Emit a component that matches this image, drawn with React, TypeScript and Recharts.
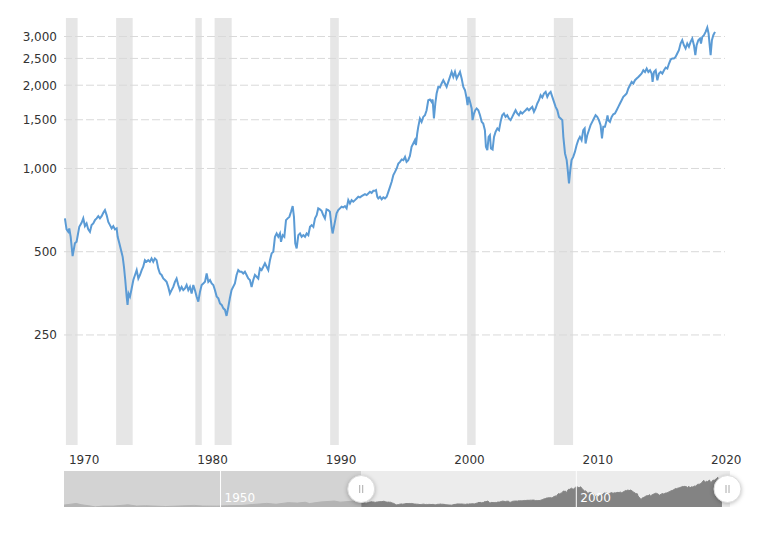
import React from 'react';
import {
    LineChart,
    Line,
    ComposedChart,
    Area,
    XAxis,
    YAxis,
    ReferenceArea,
    ReferenceLine
} from 'recharts';

// S&P 500 (inflation adjusted) as [year, value]
const spx1970s: [number, number][] = [
    [1969.84, 660], [1969.97, 602], [1970.10, 590], [1970.18, 607], [1970.29, 566], [1970.44, 482],
    [1970.62, 536], [1970.75, 543], [1970.96, 615], [1971.14, 636], [1971.27, 660], [1971.40, 619],
    [1971.53, 633], [1971.66, 602], [1971.79, 590], [1971.92, 624], [1972.05, 633], [1972.18, 650],
    [1972.31, 660], [1972.44, 672], [1972.57, 660], [1972.70, 672], [1972.83, 691], [1972.96, 707],
    [1973.09, 678], [1973.22, 641], [1973.35, 624], [1973.48, 607], [1973.61, 619], [1973.74, 602],
    [1973.87, 607], [1973.95, 566], [1974.08, 536], [1974.21, 507], [1974.34, 479], [1974.44, 441],
    [1974.54, 395], [1974.65, 344], [1974.72, 321], [1974.80, 353], [1974.91, 344], [1975.04, 368],
    [1975.17, 395], [1975.30, 412], [1975.43, 429], [1975.56, 400], [1975.69, 412], [1975.82, 429],
    [1975.94, 441], [1976.07, 466], [1976.20, 460], [1976.33, 466], [1976.46, 460], [1976.59, 473],
    [1976.72, 460], [1976.85, 473], [1976.98, 466], [1977.11, 435], [1977.24, 417], [1977.37, 412],
    [1977.50, 400], [1977.63, 395], [1977.76, 389], [1977.89, 373], [1978.02, 353], [1978.15, 363],
    [1978.28, 373], [1978.41, 389], [1978.54, 400], [1978.67, 379], [1978.80, 363], [1978.93, 373],
    [1979.06, 363], [1979.19, 368], [1979.32, 379], [1979.45, 363], [1979.58, 373], [1979.71, 353],
    [1979.84, 379], [1979.97, 363]
];

const spx1980s: [number, number][] = [
    [1980.10, 344], [1980.23, 330], [1980.36, 358], [1980.49, 379], [1980.62, 384], [1980.75, 389],
    [1980.88, 417], [1981.01, 389], [1981.14, 395], [1981.27, 384], [1981.40, 379], [1981.53, 363],
    [1981.66, 344], [1981.79, 339], [1981.92, 325], [1982.05, 321], [1982.18, 312], [1982.31, 308],
    [1982.43, 293], [1982.57, 316], [1982.69, 340], [1982.82, 363], [1983.08, 384], [1983.21, 412],
    [1983.34, 429], [1983.47, 423], [1983.60, 423], [1983.73, 417], [1983.86, 423], [1983.99, 412],
    [1984.12, 400], [1984.25, 395], [1984.38, 373], [1984.51, 395], [1984.64, 412], [1984.77, 406],
    [1984.90, 400], [1985.03, 435], [1985.16, 429], [1985.29, 441], [1985.42, 454], [1985.55, 441],
    [1985.68, 429], [1985.81, 466], [1985.94, 493], [1986.07, 500], [1986.20, 566], [1986.33, 582],
    [1986.46, 566], [1986.59, 582], [1986.67, 543], [1986.80, 574], [1986.93, 566], [1987.06, 650],
    [1987.19, 660], [1987.32, 668], [1987.45, 697], [1987.58, 731], [1987.68, 668], [1987.78, 536],
    [1987.89, 514], [1988.02, 574], [1988.15, 582], [1988.28, 566], [1988.41, 574], [1988.54, 566],
    [1988.67, 582], [1988.80, 574], [1988.93, 615], [1989.06, 624], [1989.19, 615], [1989.32, 660],
    [1989.45, 678], [1989.57, 717], [1989.70, 711], [1989.83, 703], [1989.96, 678]
];

const spx1990s: [number, number][] = [
    [1990.09, 660], [1990.22, 711], [1990.35, 707], [1990.48, 697], [1990.61, 615], [1990.69, 582],
    [1990.87, 641], [1991.00, 688], [1991.13, 707], [1991.26, 717], [1991.39, 727], [1991.52, 723],
    [1991.65, 731], [1991.78, 717], [1991.91, 768], [1992.04, 747], [1992.17, 768], [1992.30, 758],
    [1992.43, 768], [1992.56, 779], [1992.69, 790], [1992.82, 786], [1992.95, 794], [1993.08, 801],
    [1993.21, 808], [1993.34, 801], [1993.47, 812], [1993.60, 823], [1993.73, 816], [1993.86, 830],
    [1993.99, 830], [1994.07, 835], [1994.17, 790], [1994.25, 779], [1994.38, 790], [1994.51, 773],
    [1994.64, 786], [1994.77, 779], [1994.90, 790], [1995.03, 823], [1995.16, 858], [1995.29, 895],
    [1995.42, 946], [1995.55, 972], [1995.68, 1000], [1995.81, 1042], [1995.94, 1056], [1996.07, 1078],
    [1996.20, 1071], [1996.33, 1101], [1996.45, 1056], [1996.58, 1071], [1996.71, 1110], [1996.84, 1197],
    [1996.97, 1231], [1997.10, 1266], [1997.18, 1214], [1997.28, 1338], [1997.36, 1414], [1997.49, 1516],
    [1997.62, 1474], [1997.75, 1536], [1997.88, 1558], [1998.01, 1624], [1998.14, 1765], [1998.27, 1776],
    [1998.40, 1741], [1998.48, 1776], [1998.58, 1516], [1998.69, 1718], [1998.79, 1866], [1998.92, 1972],
    [1999.05, 1962], [1999.18, 2029], [1999.31, 2085], [1999.44, 2029], [1999.57, 1972], [1999.70, 2056],
    [1999.83, 2143], [1999.96, 2234]
];

const spx2000s: [number, number][] = [
    [2000.09, 2143], [2000.22, 2234], [2000.35, 2115], [2000.48, 2174], [2000.61, 2234], [2000.74, 2115],
    [2000.87, 1972], [2001.00, 1919], [2001.13, 1790], [2001.20, 1694], [2001.28, 1815], [2001.39, 1741],
    [2001.52, 1648], [2001.59, 1495], [2001.70, 1580], [2001.80, 1624], [2001.91, 1648], [2002.04, 1624],
    [2002.17, 1558], [2002.30, 1474], [2002.42, 1454], [2002.55, 1375], [2002.63, 1197], [2002.74, 1164],
    [2002.84, 1301], [2002.94, 1319], [2003.02, 1181], [2003.15, 1171], [2003.26, 1301], [2003.38, 1356],
    [2003.52, 1395], [2003.65, 1375], [2003.77, 1474], [2003.90, 1558], [2004.03, 1580], [2004.16, 1536],
    [2004.29, 1558], [2004.42, 1516], [2004.55, 1495], [2004.68, 1536], [2004.81, 1580], [2004.94, 1624],
    [2005.07, 1580], [2005.20, 1558], [2005.33, 1602], [2005.46, 1580], [2005.59, 1602], [2005.72, 1624],
    [2005.85, 1648], [2005.98, 1624], [2006.11, 1648], [2006.24, 1670], [2006.37, 1602], [2006.50, 1648],
    [2006.63, 1718], [2006.76, 1765], [2006.89, 1840], [2007.02, 1805], [2007.15, 1866], [2007.28, 1892],
    [2007.41, 1815], [2007.54, 1866], [2007.67, 1892], [2007.80, 1815], [2007.93, 1741], [2008.06, 1670],
    [2008.19, 1624], [2008.32, 1536], [2008.45, 1516], [2008.58, 1495], [2008.66, 1301], [2008.79, 1133],
    [2008.92, 1072], [2008.99, 1000], [2009.10, 883], [2009.20, 986], [2009.30, 1072], [2009.43, 1101],
    [2009.56, 1148], [2009.69, 1214], [2009.82, 1266], [2009.95, 1301]
];

const spx2010s: [number, number][] = [
    [2010.08, 1266], [2010.21, 1375], [2010.32, 1395], [2010.39, 1231], [2010.52, 1319], [2010.65, 1375],
    [2010.78, 1434], [2010.91, 1474], [2011.04, 1516], [2011.17, 1558], [2011.30, 1536], [2011.43, 1495],
    [2011.56, 1434], [2011.67, 1284], [2011.77, 1414], [2011.90, 1414], [2012.03, 1495], [2012.10, 1555],
    [2012.16, 1495], [2012.29, 1474], [2012.42, 1536], [2012.55, 1571], [2012.68, 1580], [2012.81, 1624],
    [2012.94, 1670], [2013.07, 1718], [2013.20, 1765], [2013.33, 1815], [2013.46, 1840], [2013.59, 1866],
    [2013.72, 1946], [2013.85, 2000], [2013.98, 2056], [2014.11, 2029], [2014.24, 2085], [2014.37, 2115],
    [2014.50, 2143], [2014.63, 2174], [2014.76, 2205], [2014.89, 2266], [2015.02, 2234], [2015.15, 2298],
    [2015.28, 2234], [2015.41, 2266], [2015.54, 2205], [2015.61, 2056], [2015.72, 2234], [2015.85, 2266],
    [2015.98, 2085], [2016.11, 2205], [2016.24, 2234], [2016.37, 2205], [2016.50, 2266], [2016.63, 2317],
    [2016.76, 2298], [2016.89, 2396], [2017.02, 2477], [2017.15, 2500], [2017.27, 2500], [2017.40, 2531],
    [2017.53, 2604], [2017.66, 2676], [2017.79, 2830], [2017.92, 2909], [2018.05, 2790], [2018.18, 2715],
    [2018.31, 2830], [2018.44, 2756], [2018.57, 2870], [2018.70, 2950], [2018.83, 2790], [2018.94, 2568],
    [2019.04, 2790], [2019.17, 2909], [2019.30, 2950], [2019.38, 2830], [2019.48, 2990], [2019.61, 3032],
    [2019.74, 3117], [2019.87, 3233], [2019.97, 3076], [2020.08, 2715], [2020.13, 2568], [2020.23, 2909],
    [2020.34, 3032], [2020.47, 3117]
];

// earlier history, only visible in the navigator strip
const navEarly: [number, number][] = [
    [1928.0, 300], [1929.0, 400], [1929.7, 470], [1930.5, 330], [1931.5, 230], [1932.4, 110],
    [1933.5, 200], [1935.0, 200], [1937.0, 330], [1938.2, 200], [1939.5, 230], [1942.3, 150],
    [1944.0, 200], [1946.3, 270], [1947.5, 200], [1949.5, 190], [1951.0, 240], [1953.0, 260],
    [1954.5, 360], [1956.5, 480], [1957.8, 390], [1959.5, 560], [1960.8, 510], [1961.9, 600],
    [1962.5, 460], [1964.0, 620], [1966.0, 730], [1966.8, 610], [1968.9, 730], [1969.77, 660]
];

const recessions: [number, number][] = [
    [1969.92, 1970.83], [1973.83, 1975.12], [1980.0, 1980.5], [1981.5, 1982.83],
    [1990.5, 1991.17], [2001.17, 2001.83], [2007.92, 2009.42]
];

const yTicks = [250, 500, 1000, 1500, 2000, 2500, 3000];
const xTicks = [1970, 1980, 1990, 2000, 2010, 2020];
const navTicks = [1950, 2000];

const VIEW_START = 1969.77;
const VIEW_END = 2021.25;
const NAV_START = 1928;
const NAV_END = 2021.6;

const FONT = '"DejaVu Sans", Verdana, sans-serif';
const LINE_COLOR = '#5b9bd5';

const spx = [...spx1970s, ...spx1980s, ...spx1990s, ...spx2000s, ...spx2010s].map(([t, v]) => ({ t, v }));

const navData = [
    ...navEarly.map(([t, v]) => (t >= VIEW_START ? { t, pre: v, post: v } : { t, pre: v })),
    ...spx.map(d => ({ t: d.t, post: d.v }))
];

const XTick = (props: any) => {
    const { x, y, payload } = props;
    return (
        <text x={x + 2} y={y + 19} textAnchor="start" fill="#333" fontSize={12} fontFamily={FONT}>
            {payload.value}
        </text>
    );
};

const YTick = (props: any) => {
    const { x, y, payload } = props;
    return (
        <text x={x - 7} y={y + 4.4} textAnchor="end" fill="#333" fontSize={12} fontFamily={FONT}>
            {payload.value.toLocaleString('en-US')}
        </text>
    );
};

const Handle = (props: any) => {
    const { x1, y1, y2 } = props;
    const cy = (y1 + y2) / 2;
    return (
        <g style={{ filter: 'drop-shadow(0px 1px 2px rgba(0,0,0,0.25))' }}>
            <circle cx={x1} cy={cy} r={13.5} fill="#fff" stroke="#dcdcdc" strokeWidth={1} />
            <line x1={x1 - 1.5} x2={x1 - 1.5} y1={cy - 4} y2={cy + 4} stroke="#aaa" strokeWidth={1} />
            <line x1={x1 + 1.5} x2={x1 + 1.5} y1={cy - 4} y2={cy + 4} stroke="#aaa" strokeWidth={1} />
        </g>
    );
};

const NavLabel = (props: any) => {
    const { viewBox, value } = props;
    return (
        <text x={viewBox.x + 4} y={viewBox.y + viewBox.height - 5} fill="#fff" fontSize={12} fontFamily={FONT}>
            {value}
        </text>
    );
};

export default function App() {
    return (
        <div style={{ position: 'absolute', left: 0, top: 0, width: 768, height: 545, background: '#fff' }}>
            <div style={{ position: 'absolute', left: 0, top: 0 }}>
                <LineChart width={768} height={470} data={spx} margin={{ top: 18, right: 43, left: 0, bottom: 0 }}>
                    {recessions.map(([a, b]) => (
                        <ReferenceArea key={a} x1={a} x2={b} fill="#e6e6e6" fillOpacity={1} stroke="none" ifOverflow="hidden" />
                    ))}
                    {yTicks.map(v => (
                        <ReferenceLine key={v} y={v} stroke="#d9d9d9" strokeDasharray="8 3" />
                    ))}
                    <XAxis
                        dataKey="t"
                        type="number"
                        domain={[VIEW_START, VIEW_END]}
                        allowDataOverflow
                        ticks={xTicks}
                        axisLine={false}
                        tickLine={false}
                        tickSize={0}
                        tickMargin={0}
                        height={25}
                        tick={<XTick />}
                        interval={0}
                    />
                    <YAxis
                        scale="log"
                        domain={[100, 3500]}
                        allowDataOverflow
                        ticks={yTicks}
                        axisLine={false}
                        tickLine={false}
                        tickSize={0}
                        tickMargin={0}
                        width={64}
                        tick={<YTick />}
                        interval={0}
                    />
                    <Line
                        dataKey="v"
                        type="linear"
                        stroke={LINE_COLOR}
                        strokeWidth={2}
                        dot={false}
                        isAnimationActive={false}
                    />
                </LineChart>
            </div>
            <div style={{ position: 'absolute', left: 0, top: 471 }}>
                <ComposedChart width={768} height={36} data={navData} margin={{ top: 0, right: 38, left: 64, bottom: 0 }}>
                    <XAxis dataKey="t" type="number" domain={[NAV_START, NAV_END]} allowDataOverflow hide />
                    <YAxis domain={[100, 3900]} allowDataOverflow hide />
                    <ReferenceArea x1={NAV_START} x2={VIEW_START} fill="#d3d3d3" fillOpacity={1} stroke="none" />
                    <ReferenceArea x1={VIEW_START} x2={NAV_END} fill="#ececec" fillOpacity={1} stroke="none" />
                    <Area dataKey="pre" type="linear" stroke="#b4b4b4" strokeWidth={1} fill="#b4b4b4" fillOpacity={1} isAnimationActive={false} dot={false} />
                    <Area dataKey="post" type="linear" stroke="#838383" strokeWidth={1} fill="#838383" fillOpacity={1} isAnimationActive={false} dot={false} />
                    {navTicks.map(t => (
                        <ReferenceLine key={t} x={t} stroke="#fff" strokeWidth={1} label={<NavLabel value={t} />} />
                    ))}
                    <ReferenceLine x={VIEW_START} stroke="none" shape={<Handle />} />
                    <ReferenceLine x={VIEW_END} stroke="none" shape={<Handle />} />
                </ComposedChart>
            </div>
        </div>
    );
}
